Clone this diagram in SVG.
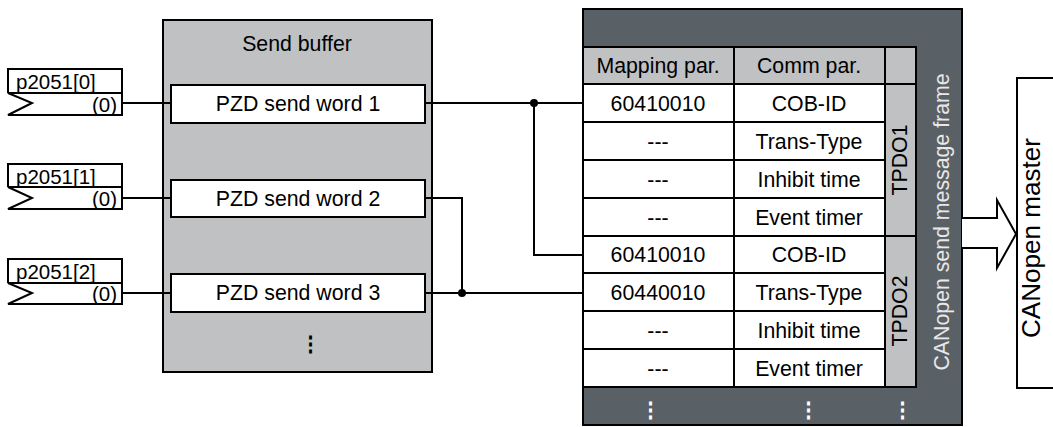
<svg xmlns="http://www.w3.org/2000/svg" width="1053" height="427" viewBox="0 0 1053 427">
<style>
text{font-family:"Liberation Sans",Arial,sans-serif;font-size:21.3px;fill:#000}
.in{font-size:20.5px}
.b{fill:none;stroke:#000;stroke-width:2}
.w{fill:#fff;stroke:#000;stroke-width:2}
.lg{fill:#bfc1c3;stroke:#000;stroke-width:2}
.dk{fill:#5a6166;stroke:#000;stroke-width:2}
.c{text-anchor:middle}
.r{text-anchor:end}
.ln{fill:none;stroke:#000;stroke-width:2}
.dot{font-weight:bold}
</style>
<rect width="1053" height="427" fill="#fff"/>
<g id="in0">
<path fill="#fff" d="M8,69H122V115H8L32,103L8,93Z"/>
<path class="b" d="M8,93V69H122V115H8L32,103L8,93H122"/>
<text class="in" x="16" y="89">p2051[0]</text>
<text class="in r" x="117" y="112">(0)</text>
</g>
<g id="in1">
<path fill="#fff" d="M8,164H122V209H8L32,198L8,187Z"/>
<path class="b" d="M8,187V164H122V209H8L32,198L8,187H122"/>
<text class="in" x="16" y="184">p2051[1]</text>
<text class="in r" x="117" y="206">(0)</text>
</g>
<g id="in2">
<path fill="#fff" d="M8,259H122V304H8L32,293L8,283Z"/>
<path class="b" d="M8,283V259H122V304H8L32,293L8,283H122"/>
<text class="in" x="16" y="279">p2051[2]</text>
<text class="in r" x="117" y="301">(0)</text>
</g>
<g id="sendbuffer">
<rect class="lg" x="163" y="20" width="269" height="352"/>
<text class="c" x="297" y="51">Send buffer</text>
<g id="pzd1"><rect class="w" x="171" y="85" width="254" height="38"/><text class="c" x="298" y="111">PZD send word 1</text></g>
<g id="pzd2"><rect class="w" x="171" y="180" width="254" height="37"/><text class="c" x="298" y="206">PZD send word 2</text></g>
<g id="pzd3"><rect class="w" x="171" y="274" width="254" height="38"/><text class="c" x="298" y="300">PZD send word 3</text></g>
<text class="c dot" x="310" y="351">⋮</text>
</g>
<g id="frame">
<rect class="dk" x="583" y="9" width="379" height="416"/>
<rect class="lg" x="583" y="47" width="333" height="37"/>
<text class="c" x="658" y="73">Mapping par.</text>
<text class="c" x="809" y="73">Comm par.</text>
<rect class="lg" x="885" y="84" width="31" height="152"/>
<rect class="lg" x="885" y="236" width="31" height="151"/>
<path class="b" d="M734,47V84M885,47V84"/>
<g id="rows">
<rect class="w" x="583" y="84" width="151" height="38"/><rect class="w" x="734" y="84" width="151" height="38"/>
<rect class="w" x="583" y="122" width="151" height="38"/><rect class="w" x="734" y="122" width="151" height="38"/>
<rect class="w" x="583" y="160" width="151" height="38"/><rect class="w" x="734" y="160" width="151" height="38"/>
<rect class="w" x="583" y="198" width="151" height="38"/><rect class="w" x="734" y="198" width="151" height="38"/>
<rect class="w" x="583" y="236" width="151" height="37"/><rect class="w" x="734" y="236" width="151" height="37"/>
<rect class="w" x="583" y="273" width="151" height="38"/><rect class="w" x="734" y="273" width="151" height="38"/>
<rect class="w" x="583" y="311" width="151" height="38"/><rect class="w" x="734" y="311" width="151" height="38"/>
<rect class="w" x="583" y="349" width="151" height="38"/><rect class="w" x="734" y="349" width="151" height="38"/>
</g>
<text class="c" x="658" y="111">60410010</text><text class="c" x="809" y="111">COB-ID</text>
<text class="c" x="658" y="149">---</text><text class="c" x="809" y="149">Trans-Type</text>
<text class="c" x="658" y="187">---</text><text class="c" x="809" y="187">Inhibit time</text>
<text class="c" x="658" y="225">---</text><text class="c" x="809" y="225">Event timer</text>
<text class="c" x="658" y="262">60410010</text><text class="c" x="809" y="262">COB-ID</text>
<text class="c" x="658" y="300">60440010</text><text class="c" x="809" y="300">Trans-Type</text>
<text class="c" x="658" y="338">---</text><text class="c" x="809" y="338">Inhibit time</text>
<text class="c" x="658" y="376">---</text><text class="c" x="809" y="376">Event timer</text>
<text class="c" transform="translate(907,160) rotate(-90)">TPDO1</text>
<text class="c" transform="translate(907,311) rotate(-90)">TPDO2</text>
<text class="c" transform="translate(949,222) rotate(-90)" style="fill:#e8e8e8">CANopen send message frame</text>
<text class="c dot" x="650" y="417" style="fill:#fff">⋮</text>
<text class="c dot" x="808" y="417" style="fill:#fff">⋮</text>
<text class="c dot" x="902" y="417" style="fill:#fff">⋮</text>
</g>
<g id="master">
<rect class="w" x="1017" y="78" width="50" height="310"/>
<text class="c" transform="translate(1040,238) rotate(-90)" style="font-size:25px" textLength="200" lengthAdjust="spacingAndGlyphs">CANopen master</text>
</g>
<g id="connectors">
<path class="ln" d="M122,103H171M122,198H171M122,293H171"/>
<path class="ln" d="M425,103H583M534,103V255H583"/>
<path class="ln" d="M425,198H462V293M425,293H583"/>
<circle cx="534" cy="103" r="4"/>
<circle cx="462" cy="293" r="4"/>
<path class="w" d="M962,218H997V200L1016,234L997,268V248H962"/>
</g>
</svg>
